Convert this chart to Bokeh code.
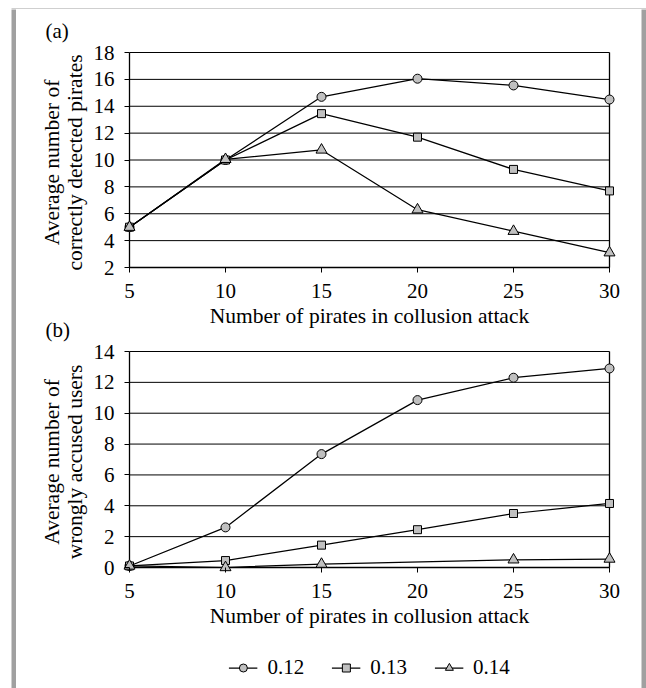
from bokeh.plotting import figure
from bokeh.layouts import column, row
from bokeh.models import Range1d, Legend, LegendItem, Title
from bokeh.embed import file_html
from bokeh.resources import INLINE

# ---------------- data ----------------
pirates = [5, 10, 15, 20, 25, 30]
series_labels = ["0.12", "0.13", "0.14"]
series_markers = ["circle", "square", "triangle"]

detected_012 = [5.0, 10.0, 14.7, 16.05, 15.55, 14.5]
detected_013 = [5.0, 10.0, 13.45, 11.7, 9.3, 7.7]
detected_014 = [5.0, 10.05, 10.75, 6.3, 4.7, 3.1]

accused_012 = [0.1, 2.6, 7.35, 10.85, 12.3, 12.9]
accused_013 = [0.1, 0.45, 1.45, 2.45, 3.5, 4.15]
accused_014 = [0.1, 0.0, 0.22, None, 0.5, 0.55]

x_ticks = [5, 10, 15, 20, 25, 30]
detected_ticks = [2, 4, 6, 8, 10, 12, 14, 16, 18]
accused_ticks = [0, 2, 4, 6, 8, 10, 12, 14]

x_title = "Number of pirates in collusion attack"
detected_title = "Average number of\ncorrectly detected pirates"
accused_title = "Average number of\nwrongly accused users"

# ---------------- style ----------------
FONT = "Liberation Serif"
MARKER_FILL = "#c0c0c0"
BORDER_GRAY = "#a0a0a0"
MARKER_SIZES = {"circle": 9, "square": 8, "triangle": 11}

PLOT_W = 625
BORDER_L = 105
BORDER_R = 24
FRAME_W = PLOT_W - BORDER_L - BORDER_R
PAD_SIDE = 8    # px of frame beyond the axis lines (left / right / bottom)
PAD_TOP = 3


def padded_range(lo, hi, inner_px, pad_lo, pad_hi):
    u = (hi - lo) / inner_px
    return Range1d(lo - pad_lo * u, hi + pad_hi * u)


def make_panel(height, top, bottom, y_ticks, ylabel):
    frame_h = height - top - bottom
    p = figure(width=PLOT_W, height=height,
               x_range=padded_range(x_ticks[0], x_ticks[-1], FRAME_W - 2 * PAD_SIDE, PAD_SIDE, PAD_SIDE),
               y_range=padded_range(y_ticks[0], y_ticks[-1], frame_h - PAD_SIDE - PAD_TOP, PAD_SIDE, PAD_TOP),
               output_backend="svg", toolbar_location=None,
               min_border_left=BORDER_L, min_border_right=BORDER_R,
               min_border_top=top, min_border_bottom=bottom)
    p.outline_line_color = None
    p.grid.visible = False
    p.background_fill_color = "white"
    p.border_fill_color = "white"

    n = len(y_ticks)
    # horizontal grid lines, drawn between the two vertical frame lines
    p.segment(x0=[x_ticks[0]] * n, x1=[x_ticks[-1]] * n, y0=y_ticks, y1=y_ticks,
              line_color="black", line_width=1)
    # frame lines: left axis, right edge, bottom axis
    p.segment(x0=[x_ticks[0], x_ticks[-1], x_ticks[0]],
              x1=[x_ticks[0], x_ticks[-1], x_ticks[-1]],
              y0=[y_ticks[0], y_ticks[0], y_ticks[0]],
              y1=[y_ticks[-1], y_ticks[-1], y_ticks[0]],
              line_color="black", line_width=1.3)

    p.xaxis.ticker = x_ticks
    p.yaxis.ticker = y_ticks
    p.xaxis.axis_label = x_title
    p.yaxis.axis_label = ylabel
    for ax in (p.xaxis[0], p.yaxis[0]):
        ax.axis_line_color = None
        ax.major_tick_line_color = "black"
        ax.major_tick_line_width = 1
        ax.major_tick_in = PAD_SIDE
        ax.major_tick_out = 5 - PAD_SIDE
        ax.minor_tick_line_color = None
        ax.major_label_text_font = FONT
        ax.major_label_text_font_size = "21px"
        ax.major_label_text_color = "black"
        ax.axis_label_text_font = FONT
        ax.axis_label_text_font_size = "21.5px"
        ax.axis_label_text_font_style = "normal"
        ax.axis_label_text_color = "black"
    p.xaxis.major_label_standoff = 8
    p.xaxis.axis_label_standoff = 3
    p.yaxis.major_label_standoff = 7
    p.yaxis.axis_label_standoff = 4
    p.yaxis.axis_label_text_line_height = 0.92
    return p


def add_series(p, values_list):
    renderers = []
    for marker, values in zip(series_markers, values_list):
        xs = [x for x, v in zip(pirates, values) if v is not None]
        ys = [v for v in values if v is not None]
        lr = p.line(xs, ys, line_color="black", line_width=1.25)
        sr = p.scatter(xs, ys, marker=marker, size=MARKER_SIZES[marker],
                       fill_color=MARKER_FILL, line_color="black", line_width=1)
        renderers.append([lr, sr])
    return renderers


def tag(text, standoff, valign):
    return Title(text=text, align="left", offset=-76,
                 standoff=standoff, vertical_align=valign,
                 text_font=FONT, text_font_size="21px", text_font_style="normal",
                 text_color="black")


def bare(w, h, **borders):
    s = figure(width=w, height=h, title=None, output_backend="svg", toolbar_location=None,
               x_axis_location=None, y_axis_location=None, **borders)
    s.grid.visible = False
    s.outline_line_color = None
    s.border_fill_color = "white"
    return s


# ---------------- panel (a) ----------------
pa = make_panel(333, 40, 67, detected_ticks, detected_title)
add_series(pa, [detected_012, detected_013, detected_014])
pa.title = tag("(a)", 14, "bottom")
pa.add_layout(tag("(b)", -26, "top"), "below")

# ---------------- panel (b) ----------------
pb = make_panel(306, 6, 73, accused_ticks, accused_title)
add_series(pb, [accused_012, accused_013, accused_014])

# ---------------- legend strip ----------------
# the series are drawn again here only to give the legend its swatches;
# the x range lies beside the data so nothing shows in this strip's frame
pl = bare(PLOT_W, 38, min_border_left=BORDER_L, min_border_right=BORDER_R,
          min_border_top=0, min_border_bottom=0,
          x_range=Range1d(x_ticks[0] - 2, x_ticks[0] - 1))
pl.background_fill_color = "white"
legend_renderers = add_series(pl, [accused_012, accused_013, accused_014])
items = [LegendItem(label=label, renderers=rs)
         for label, rs in zip(series_labels, legend_renderers)]
legend = Legend(items=items, orientation="horizontal", location="center",
                padding=0, margin=0, spacing=27, label_standoff=10,
                glyph_width=29, glyph_height=20, label_height=20,
                label_text_font=FONT, label_text_font_size="21px",
                label_text_color="black", border_line_color=None,
                background_fill_alpha=0)
pl.add_layout(legend)


# ---------------- gray frame strips ----------------
def strip(w, h, left_white=0, top_white=0):
    s = bare(w, h, min_border_left=left_white, min_border_top=top_white,
             min_border_right=0, min_border_bottom=0)
    s.background_fill_color = BORDER_GRAY
    return s


body = row(strip(16, 679, 11), column(pa, pb, pl), strip(5, 679))
page = column(strip(646, 9, 11, 5), body)

open("out.html", "w").write(file_html(page, INLINE, title="Pirates collusion attack"))
